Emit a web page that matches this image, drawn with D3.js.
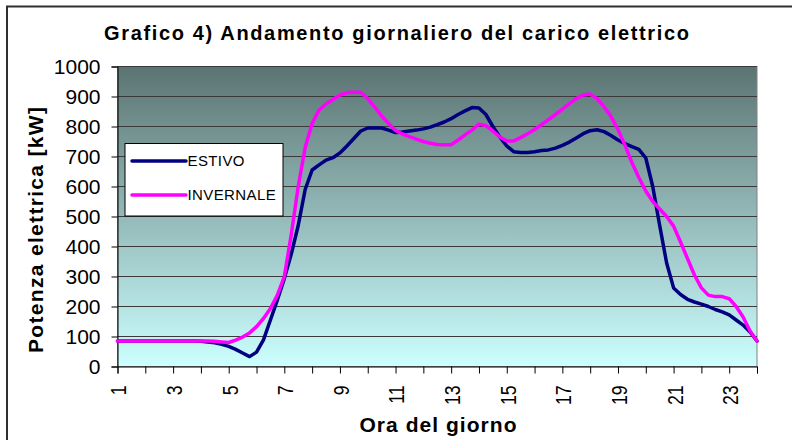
<!DOCTYPE html>
<html lang="it">
<head>
    <meta charset="UTF-8">
    <title>Andamento giornaliero del carico elettrico</title>
    <style>
        body { margin: 0; background: #fff; }
        text { font-family: "Liberation Sans", Arial, sans-serif; }
    </style>
</head>

<body>
    <svg id="container" width="792" height="440"></svg>
</body>

<script src="https://cdn.jsdelivr.net/npm/d3@7/dist/d3.min.js"></script>

<script>

    // ore del giorno, un punto ogni quarto d'ora
    let ore = d3.range(1, 24.001, 0.25)

    let estivo = [
        85, 85, 85, 85,
        85, 85, 85, 85,
        85, 85, 85, 85,
        84, 82, 79, 74,
        67, 57, 45, 33,
        48, 89, 155, 222,
        293, 375, 470, 590,
        655, 672, 688, 696,
        712, 735, 760, 785,
        795, 795, 795, 788,
        780, 782, 785, 788,
        792, 798, 806, 815,
        826, 840, 852, 863,
        862, 840, 800, 765,
        735, 716, 713, 713,
        716, 720, 722, 728,
        737, 748, 762, 776,
        786, 789, 783, 770,
        755, 743, 733, 724,
        695, 600, 470, 345,
        262, 240, 224, 215,
        208, 200, 190, 182,
        172, 155, 138, 115,
        85
    ]

    let invernale = [
        85, 85, 85, 85,
        85, 85, 85, 85,
        85, 85, 85, 85,
        85, 85, 84, 82,
        80, 88, 98, 112,
        133, 160, 193, 238,
        300, 440, 600, 730,
        810, 855, 875, 890,
        905, 913, 914, 914,
        893, 865, 835, 810,
        787, 775, 766, 758,
        750, 744, 740, 739,
        739, 755, 772, 788,
        808, 803, 785, 765,
        752, 752, 763, 776,
        790, 806, 823, 840,
        858, 876, 893, 905,
        908, 893, 866, 833,
        790, 738, 680, 630,
        585, 550, 525, 500,
        468, 415, 360, 305,
        262, 238, 233, 233,
        226, 200, 165, 118,
        85
    ]

    let serie = [
        { nome: "ESTIVO", valori: estivo, colore: "#000080" },
        { nome: "INVERNALE", valori: invernale, colore: "#ff00ff" }
    ]

    let oreTick = d3.range(1, 25)
    let oreEtichette = d3.range(1, 24, 2)
    let potenzaTick = d3.range(0, 1001, 100)

    let container = d3.select("#container")

    let pLeft = 117.5, pRight = 757, pTop = 66.5, pBottom = 366.5

    let x = d3.scaleLinear().domain([1, 24]).range([pLeft, pRight])
    let y = d3.scaleLinear().domain([0, 1000]).range([pBottom, pTop])

    // cornice del grafico (tagliata a destra e in basso)
    container.append("rect")
        .attr("x", 7).attr("y", 6.5)
        .attr("width", 900).attr("height", 600)
        .attr("fill", "none")
        .attr("stroke", "#303030")
        .attr("stroke-width", 2)

    let grad = container.append("defs").append("linearGradient")
        .attr("id", "sfondo")
        .attr("x1", 0).attr("y1", 0).attr("x2", 0).attr("y2", 1)
    grad.append("stop").attr("offset", "0%").attr("stop-color", "#5b7472")
    grad.append("stop").attr("offset", "100%").attr("stop-color", "#ccffff")

    container.append("rect")
        .attr("x", pLeft).attr("y", pTop)
        .attr("width", pRight - pLeft).attr("height", pBottom - pTop)
        .attr("fill", "url(#sfondo)")
        .attr("stroke", "#808080")

    // griglia
    container.append("g")
        .selectAll("line")
        .data(potenzaTick.filter(d => d > 0))
        .enter()
        .append("line")
        .attr("x1", pLeft).attr("x2", pRight)
        .attr("y1", d => y(d)).attr("y2", d => y(d))
        .attr("stroke", "#3a3a3a")
        .attr("stroke-width", 1)

    // asse y
    let assey = container.append("g")
        .attr("transform", `translate(${pLeft},0)`)
        .call(d3.axisLeft(y).tickValues(potenzaTick).tickFormat(d => d).tickSize(6).tickPadding(11))
    assey.select(".domain").attr("stroke", "#000")
    assey.selectAll("text")
        .attr("font-size", 21)
        .attr("font-family", "Liberation Sans, Arial, sans-serif")
        .attr("fill", "#000")

    // asse x
    let assex = container.append("g")
        .attr("transform", `translate(0,${pBottom})`)
        .call(d3.axisBottom(x).tickValues(oreTick).tickSize(7).tickFormat(""))
    assex.select(".domain").attr("stroke", "#000")

    container.append("g")
        .selectAll("text")
        .data(oreEtichette)
        .enter()
        .append("text")
        .attr("transform", d => `translate(${x(d) + 1},${pBottom + 19}) rotate(-90) scale(0.8,1)`)
        .attr("dy", "0.36em")
        .attr("text-anchor", "end")
        .attr("font-size", 22)
        .attr("fill", "#000")
        .text(d => d)

    // linee
    let linea = d3.line()
        .x((d, i) => x(ore[i]))
        .y(d => y(d))

    container.append("g")
        .selectAll("path")
        .data(serie)
        .enter()
        .append("path")
        .attr("d", d => linea(d.valori))
        .attr("fill", "none")
        .attr("stroke", d => d.colore)
        .attr("stroke-width", 3.5)
        .attr("stroke-linejoin", "round")
        .attr("stroke-linecap", "round")

    // legenda
    let legenda = container.append("g").attr("transform", "translate(125,143.5)")
    legenda.append("rect")
        .attr("width", 158).attr("height", 72.5)
        .attr("fill", "#fff")
        .attr("stroke", "#000")

    let voci = legenda.selectAll("g.voce")
        .data(serie)
        .enter()
        .append("g")
        .attr("class", "voce")
        .attr("transform", (d, i) => `translate(0,${17.5 + i * 34})`)
    voci.append("line")
        .attr("x1", 7).attr("x2", 61)
        .attr("stroke", d => d.colore)
        .attr("stroke-width", 3.5)
        .attr("stroke-linecap", "round")
    voci.append("text")
        .attr("x", 62.5)
        .attr("dy", "0.36em")
        .attr("font-size", 15)
        .attr("letter-spacing", 0.4)
        .attr("fill", "#000")
        .text(d => d.nome)

    // titoli
    container.append("text")
        .attr("x", 396.5).attr("y", 40)
        .attr("text-anchor", "middle")
        .attr("font-size", 20)
        .attr("font-weight", "bold")
        .attr("textLength", 585)
        .attr("lengthAdjust", "spacing")
        .text("Grafico 4)  Andamento giornaliero del carico elettrico")

    container.append("text")
        .attr("transform", "translate(43,230) rotate(-90)")
        .attr("text-anchor", "middle")
        .attr("font-size", 21)
        .attr("font-weight", "bold")
        .attr("textLength", 246)
        .attr("lengthAdjust", "spacing")
        .text("Potenza elettrica [kW]")

    container.append("text")
        .attr("x", 438).attr("y", 432)
        .attr("text-anchor", "middle")
        .attr("font-size", 21)
        .attr("font-weight", "bold")
        .attr("textLength", 157)
        .attr("lengthAdjust", "spacing")
        .text("Ora del giorno")

</script>

</html>
